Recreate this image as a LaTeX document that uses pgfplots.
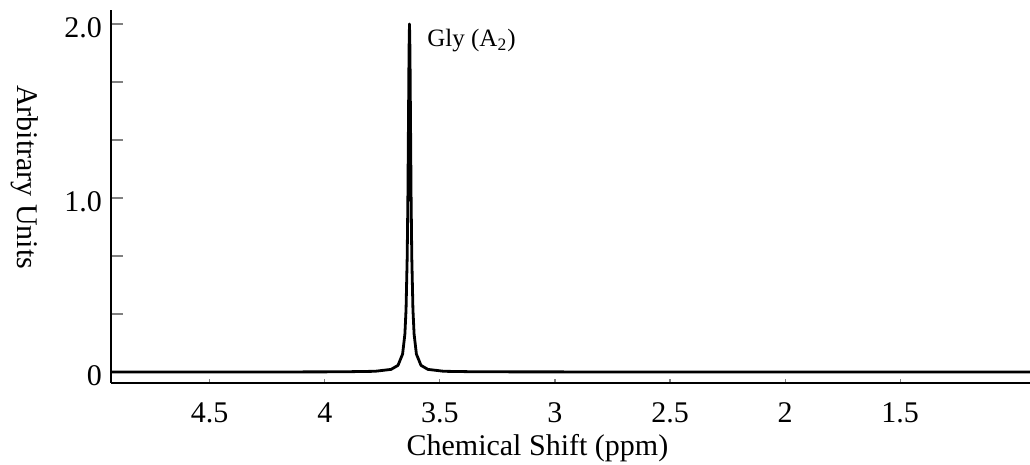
\documentclass[border=0pt]{standalone}
\usepackage{fontspec}
\setmainfont{Liberation Serif}
\usepackage{pgfplots}
\pgfplotsset{compat=1.18}
\begin{document}
\begin{tikzpicture}
\useasboundingbox (0,0) rectangle (515pt,232.5pt);
\begin{axis}[
  at={(55.5pt,41pt)}, anchor=south west,
  scale only axis, width=459.5pt, height=186.5pt,
  x dir=reverse,
  xmin=0.936, xmax=4.929,
  ymin=-0.0632, ymax=2.080,
  axis x line*=bottom, axis y line*=left,
  axis line style={line width=0.8pt, -},
  xtick={1.5,2,2.5,3,3.5,4,4.5},
  xticklabels={1.5,2,2.5,3,3.5,4,4.5},
  ytick={0,1,2},
  yticklabels={0,1.0,2.0},
  minor ytick={0,0.3333,0.6667,1,1.3333,1.6667,2},
  tick align=inside,
  major tick length=2pt, minor tick length=6pt,
  xtick style={line width=0.6pt},
  ytick style={line width=0.7pt},
  minor tick style={line width=0.7pt},
  /pgf/number format/assume math mode=true,
  ticklabel style={font=\fontsize{15}{17}\selectfont},
  xticklabel style={anchor=base, yshift=-20pt},
  yticklabel style={yshift=-2pt, xshift=-1pt},
  xlabel={Chemical Shift (ppm)},
  ylabel={Arbitrary Units},
  label style={font=\fontsize{15}{18}\selectfont},
  xlabel style={at={(axis description cs:0.464,0)}, anchor=base, yshift=-36.5pt},
  ylabel style={at={(axis description cs:-0.0936,0.552)}, anchor=center, rotate=180},
  clip=false,
]
\addplot[black, line width=1.4pt, line join=round] coordinates {
(4.929,0.000) (4.300,0.000) (3.932,0.001) (3.782,0.004) (3.712,0.015)
(3.682,0.038) (3.662,0.103) (3.652,0.218) (3.647,0.358) (3.642,0.658)
(3.639,1.000) (3.636,1.508) (3.634,1.849) (3.632,2.000) (3.630,1.849)
(3.628,1.508) (3.625,1.000) (3.622,0.658) (3.617,0.358) (3.612,0.218)
(3.602,0.103) (3.582,0.038) (3.552,0.015) (3.482,0.004) (3.332,0.001)
(2.500,0.000) (0.936,0.000)
};
\node[anchor=base west, inner sep=0pt, font=\fontsize{12.5}{15}\selectfont] at (axis cs:3.556,1.868) {Gly (A\textsubscript{2})};
\end{axis}
\end{tikzpicture}
\end{document}
